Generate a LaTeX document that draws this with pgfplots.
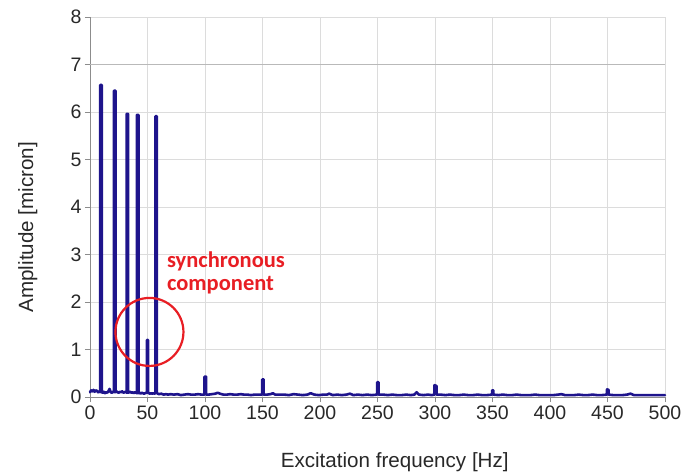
\documentclass[border=0pt]{standalone}
\usepackage{pgfplots}
\pgfplotsset{compat=1.18}
\usepackage{fontspec}
\setmainfont{Liberation Sans}
\newfontfamily\calib{Carlito}
\definecolor{specblue}{RGB}{30,20,140}
\definecolor{axisgray}{RGB}{140,140,140}
\definecolor{gridgray}{RGB}{220,220,220}
\definecolor{labelcol}{RGB}{40,40,40}
\definecolor{annred}{RGB}{232,30,36}
\begin{document}
\begin{tikzpicture}
\useasboundingbox (-90pt,-78pt) rectangle (596pt,397pt);
\begin{axis}[
  at={(0,0)}, anchor=south west,
  scale only axis, width=575pt, height=380pt,
  xmin=0, xmax=500, ymin=0, ymax=8,
  xtick={0,50,...,500}, ytick={0,1,...,8},
  axis x line*=bottom, axis y line*=left,
  axis line style={draw=axisgray, line width=0.8pt},
  tick align=outside, major tick length=5pt,
  tick style={draw=axisgray, line width=0.8pt},
  grid=major, grid style={draw=gridgray, line width=0.8pt},
  extra y ticks={7}, extra y tick labels={},
  extra y tick style={grid style={draw=gray!55, line width=0.9pt}},
  tick label style={font=\fontsize{19.5}{22}\selectfont, text=labelcol},
  /pgf/number format/assume math mode=true,
  label style={font=\fontsize{20.6}{23}\selectfont, text=labelcol},
  xlabel={Excitation frequency [Hz]},
  ylabel={Amplitude [micron]},
  xlabel style={at={(axis description cs:0.53,-0.1842)}, anchor=base},
  ylabel style={at={(axis description cs:-0.0991,0.447)}, anchor=base},
  clip=false,
]
\addplot[specblue, line width=2.6pt, line join=round, line cap=round] coordinates {
(0,0.10)(1,0.14)(2,0.12)(3,0.15)(4,0.11)(5,0.14)(6,0.13)(7,0.10)(8,0.12)
(8.8,0.10)(8.8,6.57)(10.2,6.57)(10.2,0.10)(11,0.09)(12,0.11)(13,0.08)(14,0.10)(15,0.09)(16,0.12)(17,0.17)(18,0.10)
(19,0.09)(20,0.11)(20.8,0.10)(20.8,6.45)(22.2,6.45)(22.2,0.10)(23,0.12)(24,0.10)(25,0.09)(26,0.11)(27,0.10)
(28,0.12)(29,0.09)(30,0.10)(31,0.11)(31.8,0.09)(31.8,5.96)(33.2,5.96)(33.2,0.09)(34,0.10)(35,0.11)(36,0.09)
(37,0.10)(38,0.08)(39,0.10)(40,0.09)(40.8,0.08)(40.8,5.94)(42.2,5.94)(42.2,0.08)(43,0.09)(44,0.07)(45,0.09)
(46,0.08)(47,0.07)(48,0.08)(49,0.09)(49.4,0.09)(49.4,1.20)(50.6,1.20)(50.6,0.09)(52,0.07)(53,0.08)(54,0.07)
(55,0.08)(56,0.07)(56.8,0.08)(56.8,5.91)(58.2,5.91)(58.2,0.08)(59,0.07)(60,0.06)(62,0.07)(64,0.05)(66,0.06)
(68,0.05)(70,0.06)(73,0.05)(76,0.06)(79,0.04)(82,0.05)(85,0.06)(88,0.05)(91,0.05)(94,0.06)
(97,0.05)(99.6,0.05)(99.6,0.43)(101,0.43)(101,0.05)(103,0.05)(106,0.06)(109,0.07)(111,0.09)(113,0.07)
(116,0.05)(119,0.05)(122,0.06)(125,0.05)(128,0.05)(131,0.06)(134,0.05)(137,0.05)(140,0.04)(143,0.05)
(146,0.05)(149.7,0.05)(149.7,0.37)(151,0.37)(151,0.05)(154,0.05)(157,0.06)(159,0.08)(161,0.05)(165,0.05)
(169,0.05)(173,0.04)(177,0.06)(181,0.05)(185,0.04)(189,0.05)(192,0.08)(195,0.05)(199,0.04)(203,0.05)
(206,0.05)(208,0.07)(211,0.04)(215,0.05)(219,0.04)(223,0.05)(226,0.07)(229,0.04)(233,0.05)(237,0.04)
(241,0.05)(245,0.04)(249.7,0.05)(249.7,0.31)(251,0.31)(251,0.05)(255,0.05)(259,0.04)(263,0.05)(267,0.04)
(271,0.04)(275,0.05)(279,0.04)(282,0.05)(284,0.10)(286,0.05)(290,0.04)(294,0.05)(297,0.04)(299.6,0.05)
(299.6,0.25)(301.4,0.23)(301.4,0.05)(305,0.05)(309,0.04)(313,0.05)(317,0.04)(321,0.04)(325,0.05)(329,0.04)
(333,0.04)(337,0.05)(341,0.04)(345,0.04)(349.7,0.05)(349.7,0.14)(350.8,0.14)(350.8,0.05)(355,0.04)(359,0.05)
(363,0.04)(367,0.04)(371,0.05)(375,0.04)(379,0.04)(383,0.04)(387,0.05)(391,0.04)(395,0.04)(399,0.04)
(403,0.04)(407,0.05)(410,0.06)(413,0.04)(417,0.04)(421,0.04)(425,0.05)(429,0.04)(433,0.04)(437,0.05)
(441,0.04)(445,0.04)(449.6,0.05)(449.6,0.16)(451,0.15)(451,0.05)(455,0.04)(459,0.04)(463,0.04)(467,0.05)
(470,0.07)(473,0.04)(477,0.04)(481,0.04)(485,0.04)(489,0.04)(493,0.04)(497,0.04)(500,0.04)
};
\draw[annred, line width=2.2pt] (axis cs:51.7,1.37) circle[radius=34pt];
\node[anchor=north west, inner sep=0pt, align=left, text=annred,
      font=\calib\bfseries\fontsize{22.5}{23}\selectfont]
  at (axis cs:66.8,3.07) {synchronous\\component};
\end{axis}
\end{tikzpicture}
\end{document}
